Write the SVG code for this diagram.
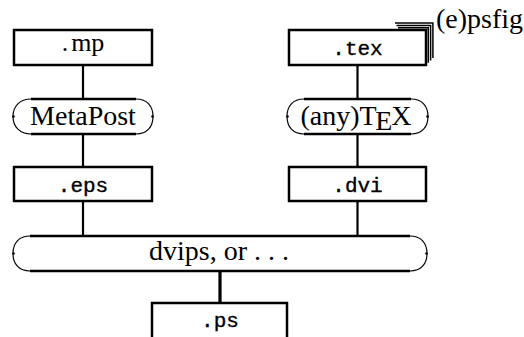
<svg xmlns="http://www.w3.org/2000/svg" width="524" height="337" viewBox="0 0 524 337">
<style>
.box{fill:#fff;stroke:#000;stroke-width:2.5}
.edge{fill:none;stroke:#000;stroke-width:2.4}
.arc{fill:none;stroke:#000;stroke-width:1.2}
.conn{fill:none;stroke:#000;stroke-width:2.2}
.tt{font-family:"Liberation Mono","Courier New",monospace;font-size:21px;fill:#000;stroke:#000;stroke-width:0.35;text-anchor:middle}
.rm{font-family:"Liberation Serif","Times New Roman",serif;font-size:28px;fill:#000;text-anchor:middle}
.rms{font-family:"Liberation Serif","Times New Roman",serif;font-size:26px;fill:#000;text-anchor:middle}
.stack{fill:none;stroke:#000;stroke-width:1.5}
.dot{fill:#000}
</style>
<rect width="524" height="337" fill="#fff"/>
<g id="connectors">
<line class="conn" x1="83" y1="65" x2="83" y2="99"/>
<line class="conn" x1="83" y1="134" x2="83" y2="167"/>
<line class="conn" x1="83" y1="201" x2="83" y2="236"/>
<line class="conn" x1="357.5" y1="65" x2="357.5" y2="99"/>
<line class="conn" x1="357.5" y1="134" x2="357.5" y2="167"/>
<line class="conn" x1="357.5" y1="201" x2="357.5" y2="236"/>
<line class="conn" x1="220" y1="271" x2="220" y2="303" style="stroke-width:3.2"/>
</g>
<g id="mp">
<rect class="box" x="14" y="30" width="138" height="35"/>
<text class="rms" x="83" y="51">.<tspan dx="3">mp</tspan></text>
</g>
<g id="tex">
<path class="stack" d="M395,23.1 H432.9 V58.1 M396.5,25.4 H430.6 V60.4 M398,27.7 H428.3 V62.7"/>
<rect class="box" x="289" y="30" width="137" height="35"/>
<text class="tt" x="357.5" y="55">.tex</text>
<text class="rm" x="436" y="28" style="text-anchor:start">(e)psfig</text>
</g>
<g id="metapost">
<path class="edge" d="M31,99 H136 M31,134 H136"/>
<path class="arc" d="M31,99 C20,99 13,106 13,116.5 C13,127 20,134 31,134 M136,99 C147,99 153,106 153,116.5 C153,127 147,134 136,134"/>
<circle class="dot" cx="13.5" cy="116.5" r="1.3"/>
<circle class="dot" cx="152.5" cy="116.5" r="1.3"/>
<text class="rm" x="83" y="125">MetaPost</text>
</g>
<g id="anytex">
<path class="edge" d="M304,99 H411 M304,134 H411"/>
<path class="arc" d="M304,99 C293,99 287,106 287,116.5 C287,127 293,134 304,134 M411,99 C422,99 428,106 428,116.5 C428,127 422,134 411,134"/>
<circle class="dot" cx="287.5" cy="116.5" r="1.3"/>
<circle class="dot" cx="427.5" cy="116.5" r="1.3"/>
<text class="rm" x="356" y="125">(any)T<tspan dx="-1.5" dy="5">E</tspan><tspan dx="-1" dy="-5">X</tspan></text>
</g>
<g id="eps">
<rect class="box" x="14" y="167" width="138" height="34"/>
<text class="tt" x="83" y="192">.eps</text>
</g>
<g id="dvi">
<rect class="box" x="289" y="167" width="137" height="34"/>
<text class="tt" x="357.5" y="192">.dvi</text>
</g>
<g id="dvips">
<path class="edge" d="M30,236 H410 M30,271 H410"/>
<path class="arc" d="M30,236 C19,236 13,243 13,253.5 C13,264 19,271 30,271 M410,236 C421,236 427,243 427,253.5 C427,264 421,271 410,271"/>
<circle class="dot" cx="13.5" cy="253.5" r="1.3"/>
<circle class="dot" cx="426.5" cy="253.5" r="1.3"/>
<text class="rm" x="219" y="260">dvips, or . . .</text>
</g>
<g id="ps">
<path class="box" d="M152,340 V303 H287 V340"/>
<text class="tt" x="220" y="327">.ps</text>
</g>
</svg>
